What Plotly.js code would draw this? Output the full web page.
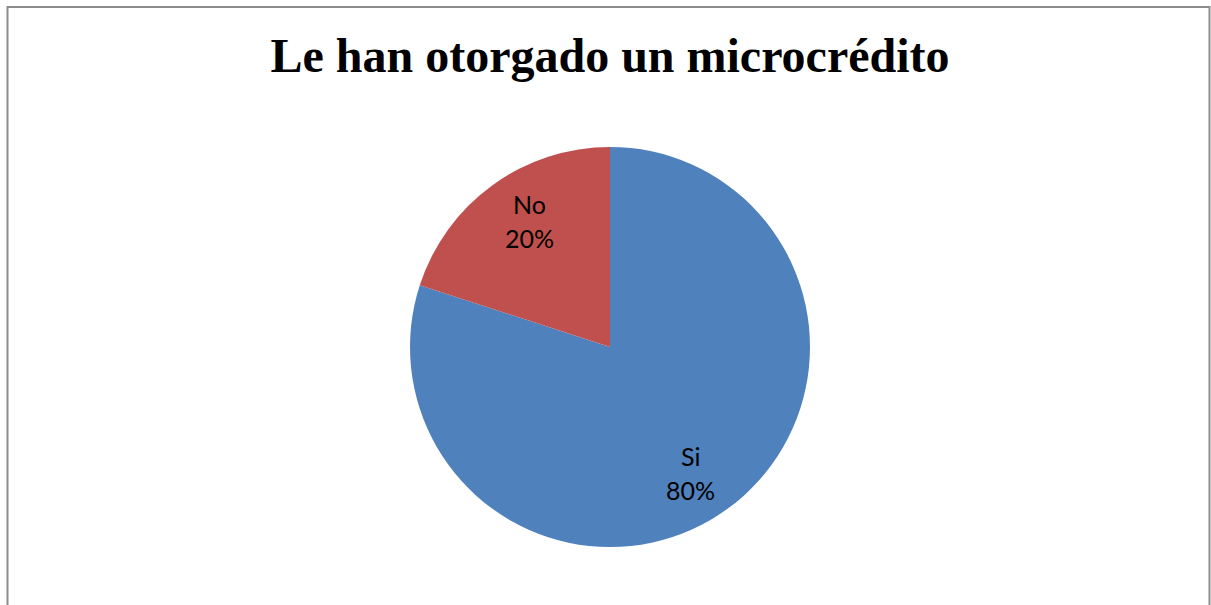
<!DOCTYPE html>
<html>
<head>
<meta charset="utf-8">
<script src="https://cdn.plot.ly/plotly-3.0.1.min.js"></script>
<style>html,body{margin:0;padding:0;background:#fff;}#chart{width:1211px;height:605px;}</style>
</head>
<body>
<div id="chart"></div>
<script>
const labels = ["Si", "No"];
const values = [80, 20];
const colors = ["#4F81BD", "#C0504D"];
const chartTitle = "Le han otorgado un microcrédito";

const W = 1211, H = 605;
const CX = 610, CY = 347, R = 200;

const data = [{
  type: "pie",
  labels: labels,
  values: values,
  sort: false,
  direction: "clockwise",
  rotation: 0,
  marker: {colors: colors, line: {width: 0}},
  textinfo: "none",
  hoverinfo: "none",
  showlegend: false,
  domain: {x: [(CX - R) / W, (CX + R) / W], y: [1 - (CY + R) / H, 1 - (CY - R) / H]}
}];

// data labels placed near each slice's mid-angle (derived from the values)
const total = values.reduce((a, b) => a + b, 0);
const annotations = [];
let cum = 0;
const font = {family: "Lato, Open Sans, sans-serif", size: 25, color: "#000"};
const angleOffset = 0.06;
values.forEach((v, i) => {
  const mid = (cum + v / 2) / total * 2 * Math.PI + angleOffset;
  cum += v;
  const r = 0.75 * R;
  const px = CX + r * Math.sin(mid);
  const py = CY - r * Math.cos(mid);
  const pct = Math.round(v / total * 100) + "%";
  annotations.push({xref: "paper", yref: "paper", x: px / W, y: 1 - py / H,
    text: labels[i], showarrow: false, font: font, xanchor: "center", yanchor: "middle", yshift: 17});
  annotations.push({xref: "paper", yref: "paper", x: px / W, y: 1 - py / H,
    text: pct, showarrow: false, font: font, xanchor: "center", yanchor: "middle", yshift: -17});
});

const layout = {
  width: W, height: H,
  margin: {l: 0, r: 0, t: 0, b: 0},
  paper_bgcolor: "#fff",
  title: {
    text: "<b>" + chartTitle + "</b>",
    font: {family: "Liberation Serif, Times New Roman, serif", size: 48, color: "#000"},
    x: 610 / W, xanchor: "center",
    y: 1 - 55 / H, yanchor: "middle"
  },
  annotations: annotations,
  shapes: [{
    type: "rect", xref: "paper", yref: "paper",
    x0: 7.5 / W, x1: 1209.5 / W, y0: -0.05, y1: 1 - 7 / H,
    line: {color: "#8c8c8c", width: 2}
  }]
};

Plotly.newPlot("chart", data, layout, {staticPlot: true});
</script>
</body>
</html>
